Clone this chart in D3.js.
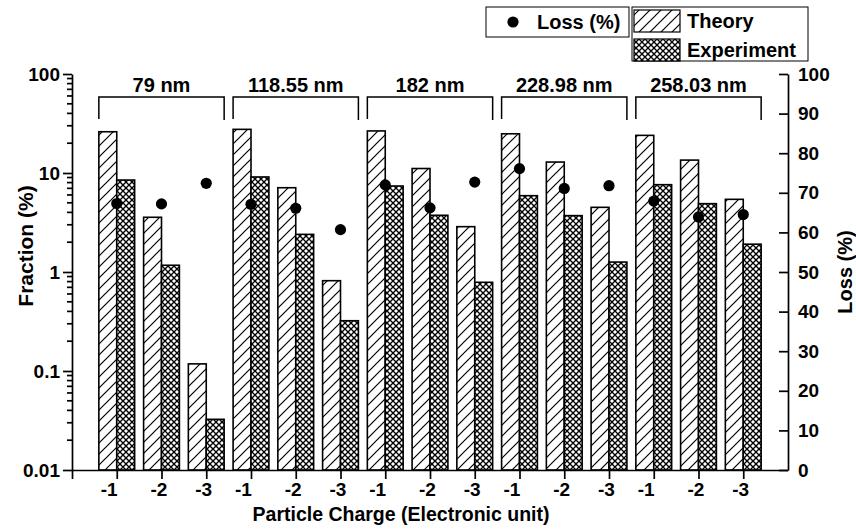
<!DOCTYPE html>
<html>
<head>
<meta charset="utf-8">
<script src="https://cdn.jsdelivr.net/npm/d3@7"></script>
<style>
  body { margin: 0; background: #fff; }
  text { font-family: "Liberation Sans", Arial, sans-serif; font-weight: bold; fill: #000; }
  .axis path, .axis line { stroke: #000; stroke-width: 1.7px; }
  .axis text { font-size: 19px; }
</style>
</head>
<body>
<div class="chart"></div>
<script>
// group labels, charge labels and values
const sizes = ["79 nm", "118.55 nm", "182 nm", "228.98 nm", "258.03 nm"];
const charges = ["-1", "-2", "-3"];
const theory = [26.1, 3.57, 0.118, 27.6, 7.1, 0.817, 26.6, 11.1, 2.87, 24.9, 12.9, 4.5, 24.0, 13.5, 5.42];
const experiment = [8.49, 1.17, 0.0325, 9.12, 2.4, 0.322, 7.39, 3.74, 0.787, 5.9, 3.71, 1.26, 7.62, 4.9, 1.91];
const loss = [67.3, 67.2, 72.4, 67.1, 66.1, 60.7, 72.0, 66.2, 72.7, 76.1, 71.1, 71.8, 67.9, 63.9, 64.5];
const fracTicks = [0.01, 0.1, 1, 10, 100];
const lossTicks = d3.range(0, 101, 10);

const margin = { top: 74, left: 72, right: 68, bottom: 59 };
const width = 856 - margin.left - margin.right;
const height = 529 - margin.top - margin.bottom;

const data = theory.map((t, i) => ({
  idx: i + 1,
  charge: charges[i % 3],
  theory: t,
  experiment: experiment[i],
  loss: loss[i]
}));

const root = d3.select(".chart")
  .append("svg")
  .attr("width", 856)
  .attr("height", 529);

const defs = root.append("defs");

const hatch = defs.append("pattern")
  .attr("id", "hatch")
  .attr("patternUnits", "userSpaceOnUse")
  .attr("width", 11)
  .attr("height", 11);
hatch.append("rect").attr("width", 11).attr("height", 11).attr("fill", "#fff");
hatch.append("path")
  .attr("d", "M-1,12 L12,-1 M-3,3 L3,-3 M8,14 L14,8")
  .attr("stroke", "#000")
  .attr("stroke-width", 1.2);

const cross = defs.append("pattern")
  .attr("id", "cross")
  .attr("patternUnits", "userSpaceOnUse")
  .attr("width", 6)
  .attr("height", 6);
cross.append("rect").attr("width", 6).attr("height", 6).attr("fill", "#fff");
cross.append("path")
  .attr("d", "M0,0 L6,6 M6,0 L0,6")
  .attr("stroke", "#000")
  .attr("stroke-width", 1.35);

const svg = root.append("g")
  .attr("transform", `translate(${margin.left}, ${margin.top})`);

const xScale = d3.scaleLinear().domain([0, 16]).range([0, width]);
const yScale = d3.scaleLog().domain([0.01, 100]).range([height, 0]);
const y2Scale = d3.scaleLinear().domain([0, 100]).range([height, 0]);
const barW = xScale(0.4) - xScale(0);

// bars
svg.selectAll(".bar-theory")
  .data(data)
  .enter()
  .append("rect")
  .attr("class", "bar-theory")
  .attr("x", d => xScale(d.idx) - barW)
  .attr("y", d => yScale(d.theory))
  .attr("width", barW)
  .attr("height", d => height - yScale(d.theory))
  .attr("fill", "url(#hatch)")
  .attr("stroke", "#000")
  .attr("stroke-width", 1.6);

svg.selectAll(".bar-exp")
  .data(data)
  .enter()
  .append("rect")
  .attr("class", "bar-exp")
  .attr("x", d => xScale(d.idx))
  .attr("y", d => yScale(d.experiment))
  .attr("width", barW)
  .attr("height", d => height - yScale(d.experiment))
  .attr("fill", "url(#cross)")
  .attr("stroke", "#000")
  .attr("stroke-width", 1.6);

// loss dots
svg.selectAll(".dot")
  .data(data)
  .enter()
  .append("circle")
  .attr("class", "dot")
  .attr("cx", d => xScale(d.idx))
  .attr("cy", d => y2Scale(d.loss))
  .attr("r", 5.6)
  .attr("fill", "#000");

// size brackets
const brackets = svg.selectAll(".bracket")
  .data(sizes)
  .enter()
  .append("g")
  .attr("class", "bracket");

brackets.append("path")
  .attr("d", (d, i) => {
    const x0 = xScale(3 * i + 1) - barW;
    const x1 = xScale(3 * i + 3) + barW;
    return `M${x0},45 L${x0},23 L${x1},23 L${x1},46`;
  })
  .attr("fill", "none")
  .attr("stroke", "#000")
  .attr("stroke-width", 1.5);

brackets.append("text")
  .attr("x", (d, i) => (xScale(3 * i + 1) + xScale(3 * i + 3)) / 2)
  .attr("y", 18)
  .attr("text-anchor", "middle")
  .attr("font-size", "20px")
  .text(d => d);

// axes
const xAxis = d3.axisBottom(xScale)
  .tickValues(d3.range(0, 16))
  .tickSize(9)
  .tickSizeOuter(0)
  .tickPadding(4)
  .tickFormat(d => d === 0 ? "" : charges[(d - 1) % 3]);

svg.append("g")
  .attr("class", "axis x-axis")
  .attr("transform", `translate(0, ${height})`)
  .call(xAxis)
  .selectAll("text")
  .attr("dx", d => (d - 1) % 3 === 0 ? -8 : -3);

const yAxis = d3.axisLeft(yScale)
  .tickValues(fracTicks)
  .tickSize(9)
  .tickSizeOuter(0)
  .tickPadding(3)
  .tickFormat(d => String(d));

const yAxisG = svg.append("g")
  .attr("class", "axis y-axis")
  .call(yAxis);

const minor = [];
fracTicks.slice(0, -1).forEach(p => {
  for (let k = 2; k < 10; k++) minor.push(p * k);
});
yAxisG.selectAll(".minor")
  .data(minor)
  .enter()
  .append("line")
  .attr("class", "minor")
  .attr("x1", -5)
  .attr("x2", 0)
  .attr("y1", d => yScale(d))
  .attr("y2", d => yScale(d));

const y2Axis = d3.axisRight(y2Scale)
  .tickValues(lossTicks)
  .tickSizeInner(-9)
  .tickSizeOuter(0)
  .tickPadding(10);

svg.append("g")
  .attr("class", "axis y2-axis")
  .attr("transform", `translate(${width}, 0)`)
  .call(y2Axis);

// axis titles
root.append("text")
  .attr("transform", "translate(33, 246) rotate(-90)")
  .attr("text-anchor", "middle")
  .attr("font-size", "21px")
  .text("Fraction (%)");

root.append("text")
  .attr("transform", "translate(852, 272) rotate(-90)")
  .attr("text-anchor", "middle")
  .attr("font-size", "20px")
  .text("Loss (%)");

root.append("text")
  .attr("x", 401)
  .attr("y", 521)
  .attr("text-anchor", "middle")
  .attr("font-size", "19.5px")
  .text("Particle Charge (Electronic unit)");

// legend
const legend = root.append("g").attr("class", "legend");

legend.append("rect")
  .attr("x", 486).attr("y", 7)
  .attr("width", 143).attr("height", 30)
  .attr("fill", "#fff").attr("stroke", "#000").attr("stroke-width", 1);
legend.append("circle")
  .attr("cx", 513).attr("cy", 22).attr("r", 5.6).attr("fill", "#000");
legend.append("text")
  .attr("x", 537).attr("y", 29)
  .attr("font-size", "20px")
  .text("Loss (%)");

legend.append("rect")
  .attr("x", 632).attr("y", 7)
  .attr("width", 176).attr("height", 54)
  .attr("fill", "#fff").attr("stroke", "#000").attr("stroke-width", 1);

const legendItems = [
  { name: "Theory", fill: "url(#hatch)", y: 10 },
  { name: "Experiment", fill: "url(#cross)", y: 39 }
];
legend.selectAll(".legend-patch")
  .data(legendItems)
  .enter()
  .append("rect")
  .attr("class", "legend-patch")
  .attr("x", 634)
  .attr("y", d => d.y)
  .attr("width", 46)
  .attr("height", 22)
  .attr("fill", d => d.fill)
  .attr("stroke", "#000")
  .attr("stroke-width", 1.2);
legend.selectAll(".legend-label")
  .data(legendItems)
  .enter()
  .append("text")
  .attr("class", "legend-label")
  .attr("x", 687)
  .attr("y", d => d.y + 18)
  .attr("font-size", "20px")
  .text(d => d.name);
</script>
</body>
</html>
